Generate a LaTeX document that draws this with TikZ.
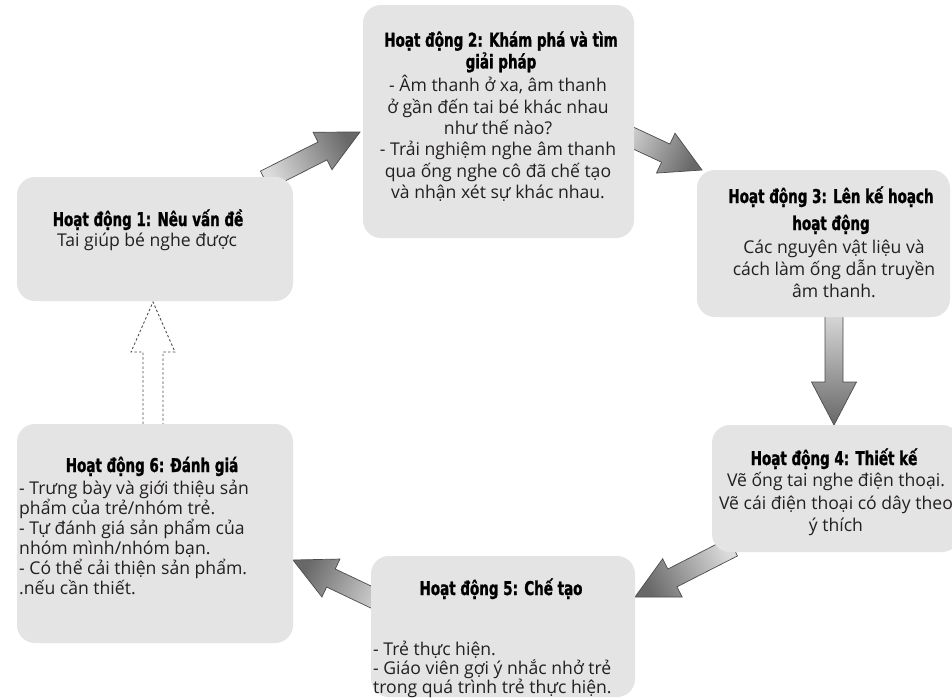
\documentclass[tikz,border=0pt]{standalone}
\usepackage{fontspec}
\setmainfont{Open Sans}
\newfontfamily\headfont{DejaVu Sans}[FakeStretch=0.71, FakeBold=1.2]
\usetikzlibrary{calc}
\pgfdeclarelayer{back}
\pgfsetlayers{back,main}

\definecolor{boxgray}{HTML}{E4E4E4}
\definecolor{inkgray}{HTML}{231F20}
\definecolor{arrowdark}{HTML}{686868}
\definecolor{arrowlight}{HTML}{DCDCDC}
\definecolor{edgegray}{HTML}{4C4C4C}

% filled block arrow: style, tail, tip, half shaft width, half head width, head length
\newcommand\blockarrow[6]{%
  \coordinate (ba-h) at ($(#3)!#6!(#2)$);
  \path[#1] ($(#2)!#4!90:(#3)$) -- ($(ba-h)!#4!90:(#3)$) -- ($(ba-h)!#5!90:(#3)$)
    -- (#3) -- ($(ba-h)!#5!-90:(#3)$) -- ($(ba-h)!#4!-90:(#3)$) -- ($(#2)!#4!-90:(#3)$) -- cycle;
}
% outline-only arrow, open at the tail
\newcommand\hollowarrow[6]{%
  \coordinate (ha-h) at ($(#3)!#6!(#2)$);
  \draw[#1] ($(#2)!#4!90:(#3)$) -- ($(ha-h)!#4!90:(#3)$) -- ($(ha-h)!#5!90:(#3)$)
    -- (#3) -- ($(ha-h)!#5!-90:(#3)$) -- ($(ha-h)!#4!-90:(#3)$) -- ($(#2)!#4!-90:(#3)$);
}

\begin{document}
\begin{tikzpicture}[x=1pt,y=-1pt,
  stage/.style={fill=boxgray, draw=none, rounded corners=18pt, inner sep=0pt},
  headtext/.style={font=\headfont\bfseries\fontsize{19}{#1}\selectfont, text=black, align=center, inner sep=0pt},
  headtext/.default=21,
  bodytext/.style={font=\fontsize{17.6}{#1}\selectfont, text=inkgray, align=center, inner sep=0pt},
  bodytext/.default=21,
  leftbody/.style={bodytext=#1, align=left},
  arrowfill/.style={draw=edgegray, line width=0.7pt, top color=arrowdark, bottom color=arrowlight, shading angle=#1},
  dottedarrow/.style={draw=edgegray, line width=0.9pt, dash pattern=on 2.4pt off 2.2pt}
]
\useasboundingbox (0,0) rectangle (952,699);
\clip (0,0) rectangle (952,699);
\begin{pgfonlayer}{back}
  \fill[white] (0,0) rectangle (952,699);
\end{pgfonlayer}

% activity boxes
\node[stage, minimum width=276pt, minimum height=124pt] (b1) at (155,239) {};
\node[stage, minimum width=271pt, minimum height=233pt] (b2) at (498.5,121.5) {};
\node[stage, minimum width=253pt, minimum height=147pt] (b3) at (823.5,243.5) {};
\node[stage, minimum width=248pt, minimum height=127pt] (b4) at (836,488.5) {};
\node[stage, minimum width=264pt, minimum height=141pt] (b5) at (503,626.5) {};
\node[stage, minimum width=276pt, minimum height=219pt] (b6) at (155,533.5) {};

% box texts (a multi-line node's base is its last line)
\node[headtext, anchor=base] (h1) at (148,226) {Hoạt động 1: Nêu vấn đề};
\node[bodytext, anchor=base] (t1) at (147,246) {Tai giúp bé nghe được};

\node[headtext=21.7, anchor=base] (h2) at (501,68.4) {Hoạt động 2: Khám phá và tìm\\giải pháp};
\node[bodytext=21.4, anchor=base] (t2) at (498,198.7) {- Âm thanh ở xa, âm thanh\\ở gần đến tai bé khác nhau\\như thế nào?\\- Trải nghiệm nghe âm thanh\\qua ống nghe cô đã chế tạo\\và nhận xét sự khác nhau.};

\node[headtext=27, anchor=base] (h3) at (831,230) {Hoạt động 3: Lên kế hoạch\\hoạt động};
\node[bodytext=22, anchor=base] (t3) at (834,297) {Các nguyên vật liệu và\\cách làm ống dẫn truyền\\âm thanh.};

\node[headtext, anchor=base] (h4) at (834,465) {Hoạt động 4: Thiết kế};
\node[bodytext=22.5, anchor=base] (t4) at (836,531.7) {Vẽ ống tai nghe điện thoại.\\Vẽ cái điện thoại có dây theo\\ý thích};

\node[headtext, anchor=base] (h5) at (501,595) {Hoạt động 5: Chế tạo};
\node[leftbody=19, anchor=base west] (t5) at (373,693) {- Trẻ thực hiện.\\- Giáo viên gợi ý nhắc nhở trẻ\\trong quá trình trẻ thực hiện.};

\node[headtext, anchor=base] (h6) at (152,472) {Hoạt động 6: Đánh giá};
\node[leftbody=20, anchor=base west] (t6) at (19,594) {- Trưng bày và giới thiệu sản\\phẩm của trẻ/nhóm trẻ.\\- Tự đánh giá sản phẩm của\\nhóm mình/nhóm bạn.\\- Có thể cải thiện sản phẩm.\\.nếu cần thiết.};

% arrow ends
\coordinate (a12t) at (265,180);  \coordinate (a12h) at (360,132);
\coordinate (a23t) at (616,130);  \coordinate (a23h) at (702,170);
\coordinate (a34t) at (834,310);  \coordinate (a34h) at (834,425);
\coordinate (a45t) at (733,547);  \coordinate (a45h) at (635,597);
\coordinate (a56t) at (392,607);  \coordinate (a56h) at (293,560);
\coordinate (a61t) at (153,424);  \coordinate (a61h) at (153,302);

% arrows sit behind the boxes
\begin{pgfonlayer}{back}
  \blockarrow{arrowfill=-64}{a12t}{a12h}{10pt}{21pt}{42pt}
  \blockarrow{arrowfill=-115}{a23t}{a23h}{10pt}{22pt}{40pt}
  \blockarrow{arrowfill=180}{a34t}{a34h}{9pt}{22.5pt}{43pt}
  \blockarrow{arrowfill=117}{a45t}{a45h}{10pt}{21.5pt}{42pt}
  \blockarrow{arrowfill=65}{a56t}{a56h}{10pt}{21pt}{42pt}
  \hollowarrow{dottedarrow}{a61t}{a61h}{10pt}{22pt}{50pt}
\end{pgfonlayer}
\end{tikzpicture}
\end{document}
